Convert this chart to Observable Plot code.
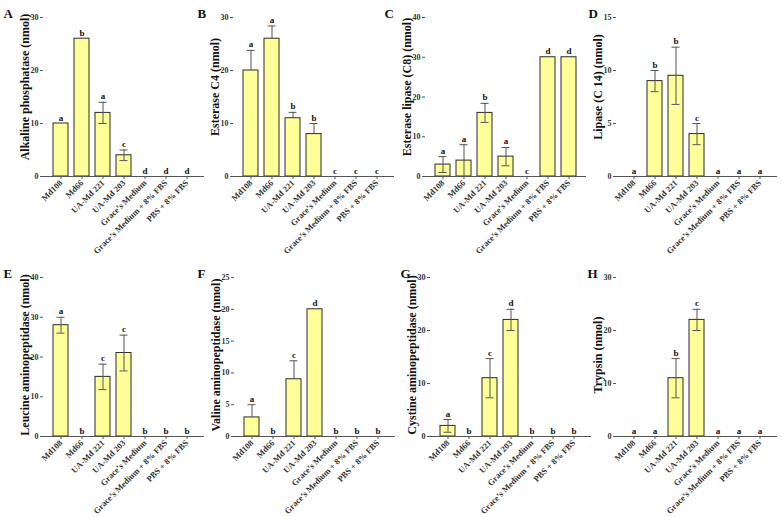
<!DOCTYPE html>
<html>
<head>
<meta charset="utf-8">
<script src="https://cdn.jsdelivr.net/npm/d3@7"></script>
<script src="https://cdn.jsdelivr.net/npm/@observablehq/plot@0.6"></script>
<style>
  body { margin: 0; background: #fff; }
  #fig { position: relative; width: 782px; height: 517px; overflow: hidden; background: #fff; }
  #fig svg { position: absolute; overflow: visible; }
</style>
</head>
<body>
<div id="fig"></div>
<script>
// Strains and control media, shared by every panel
const categories = ["Md108", "Md66", "UA-Md 221", "UA-Md 203", "Grace’s Medium", "Grace’s Medium + 8% FBS", "PBS + 8% FBS"];

// A — alkaline phosphatase
const alkalinePhosphatase = [10, 26, 12, 4, 0, 0, 0];
const alkalinePhosphataseSD = [0, 0, 2, 1, 0, 0, 0];
const alkalinePhosphataseGroups = ["a", "b", "a", "c", "d", "d", "d"];
const alkalinePhosphataseTicks = [0, 10, 20, 30];

// B — esterase C4
const esteraseC4 = [20, 26, 11, 8, 0, 0, 0];
const esteraseC4SD = [3.8, 2.4, 1.1, 2, 0, 0, 0];
const esteraseC4Groups = ["a", "a", "b", "b", "c", "c", "c"];
const esteraseC4Ticks = [0, 10, 20, 30];

// C — esterase lipase (C8)
const esteraseLipaseC8 = [3, 4, 16, 5, 0, 30, 30];
const esteraseLipaseC8SD = [2, 4, 2.4, 2.3, 0, 0, 0];
const esteraseLipaseC8Groups = ["a", "a", "b", "a", "c", "d", "d"];
const esteraseLipaseC8Ticks = [0, 10, 20, 30, 40];

// D — lipase (C 14)
const lipaseC14 = [0, 9, 9.5, 4, 0, 0, 0];
const lipaseC14SD = [0, 1, 2.7, 1, 0, 0, 0];
const lipaseC14Groups = ["a", "b", "b", "c", "a", "a", "a"];
const lipaseC14Ticks = [0, 5, 10, 15];

// E — leucine aminopeptidase
const leucineAminopeptidase = [28, 0, 15, 21, 0, 0, 0];
const leucineAminopeptidaseSD = [2, 0, 3.2, 4.5, 0, 0, 0];
const leucineAminopeptidaseGroups = ["a", "b", "c", "c", "b", "b", "b"];
const leucineAminopeptidaseTicks = [0, 10, 20, 30, 40];

// F — valine aminopeptidase
const valineAminopeptidase = [3, 0, 9, 20, 0, 0, 0];
const valineAminopeptidaseSD = [2, 0, 2.9, 0, 0, 0, 0];
const valineAminopeptidaseGroups = ["a", "b", "c", "d", "b", "b", "b"];
const valineAminopeptidaseTicks = [0, 5, 10, 15, 20, 25];

// G — cystine aminopeptidase
const cystineAminopeptidase = [2, 0, 11, 22, 0, 0, 0];
const cystineAminopeptidaseSD = [1.2, 0, 3.7, 2, 0, 0, 0];
const cystineAminopeptidaseGroups = ["a", "b", "c", "d", "b", "b", "b"];
const cystineAminopeptidaseTicks = [0, 10, 20, 30];

// H — trypsin
const trypsin = [0, 0, 11, 22, 0, 0, 0];
const trypsinSD = [0, 0, 3.7, 2, 0, 0, 0];
const trypsinGroups = ["a", "a", "b", "c", "a", "a", "a"];
const trypsinTicks = [0, 10, 20, 30];

const panels = [
  {tag: "A", title: "Alkaline phosphatase (nmol)", values: alkalinePhosphatase, sd: alkalinePhosphataseSD, groups: alkalinePhosphataseGroups, ticks: alkalinePhosphataseTicks, upperOnly: false},
  {tag: "B", title: "Esterase C4 (nmol)", values: esteraseC4, sd: esteraseC4SD, groups: esteraseC4Groups, ticks: esteraseC4Ticks, upperOnly: true},
  {tag: "C", title: "Esterase lipase (C8) (nmol)", values: esteraseLipaseC8, sd: esteraseLipaseC8SD, groups: esteraseLipaseC8Groups, ticks: esteraseLipaseC8Ticks, upperOnly: false},
  {tag: "D", title: "Lipase (C 14) (nmol)", values: lipaseC14, sd: lipaseC14SD, groups: lipaseC14Groups, ticks: lipaseC14Ticks, upperOnly: false},
  {tag: "E", title: "Leucine aminopeptidase (nmol)", values: leucineAminopeptidase, sd: leucineAminopeptidaseSD, groups: leucineAminopeptidaseGroups, ticks: leucineAminopeptidaseTicks, upperOnly: false},
  {tag: "F", title: "Valine aminopeptidase (nmol)", values: valineAminopeptidase, sd: valineAminopeptidaseSD, groups: valineAminopeptidaseGroups, ticks: valineAminopeptidaseTicks, upperOnly: true},
  {tag: "G", title: "Cystine aminopeptidase (nmol)", values: cystineAminopeptidase, sd: cystineAminopeptidaseSD, groups: cystineAminopeptidaseGroups, ticks: cystineAminopeptidaseTicks, upperOnly: false},
  {tag: "H", title: "Trypsin (nmol)", values: trypsin, sd: trypsinSD, groups: trypsinGroups, ticks: trypsinTicks, upperOnly: false}
];

// Page placement of each panel: y-axis position, row top, panel-letter position, title shift
const layout = [
  {axisX: 43, top: 0, tagX: 3, titleDy: -10},
  {axisX: 233, top: 0, tagX: 197, titleDy: -10},
  {axisX: 425, top: 0, tagX: 384, titleDy: -10},
  {axisX: 616, top: 0, tagX: 588, titleDy: -10},
  {axisX: 43, top: 260, tagX: 3, titleDy: -2},
  {axisX: 234, top: 260, tagX: 197, titleDy: -2},
  {axisX: 430, top: 260, tagX: 400, titleDy: -2},
  {axisX: 616, top: 260, tagX: 587, titleDy: -2}
];

const ML = 48;          // room for tick labels and the rotated title
const FRAME_W = 161;    // length of the x-axis line
const FONT = "'Liberation Serif', 'Times New Roman', serif";
const AXIS = "#555";

const fig = document.getElementById("fig");

panels.forEach((p, k) => {
  const pos = layout[k];
  const rows = categories.map((c, i) => ({cat: c, v: p.values[i], e: p.sd[i], g: p.groups[i]}));
  const bars = rows.filter(d => d.v > 0);
  const errs = rows.filter(d => d.e > 0);
  const lo = d => p.upperOnly ? d.v : d.v - d.e;
  const hi = d => d.v + d.e;

  const chart = Plot.plot({
    width: ML + FRAME_W,
    height: 255,
    marginLeft: ML,
    marginRight: 0,
    marginTop: 17,
    marginBottom: 79,
    style: {fontFamily: FONT, fontWeight: "bold", fontSize: "8px", background: "transparent", color: "#333"},
    x: {type: "band", domain: categories, paddingInner: 0.3, paddingOuter: 0.15, insetLeft: 4, insetRight: 5},
    y: {domain: [0, d3.max(p.ticks)]},
    marks: [
      Plot.barY(bars, {x: "cat", y: "v", fill: "#ffff99", stroke: "#2b2b2b", strokeWidth: 1}),
      Plot.ruleX(errs, {x: "cat", y1: lo, y2: hi, stroke: "#555", strokeWidth: 1}),
      Plot.tickY(errs, {x: "cat", y: hi, stroke: "#555", strokeWidth: 1, insetLeft: 3.5, insetRight: 3.5}),
      p.upperOnly ? null : Plot.tickY(errs, {x: "cat", y: lo, stroke: "#555", strokeWidth: 1, insetLeft: 3.5, insetRight: 3.5}),
      Plot.text(rows, {x: "cat", y: hi, text: "g", dy: -3, lineAnchor: "bottom", fontSize: 9, fontWeight: "bold", fill: "#111"}),
      Plot.axisY({ticks: p.ticks, tickSize: 3, tickPadding: 2, label: null, line: true, stroke: AXIS, fill: "#333", fontSize: 8}),
      Plot.axisX({tickRotate: -45, tickSize: 3, tickPadding: 2, label: null, stroke: AXIS, fill: "#333", fontSize: 8.5}),
      Plot.ruleY([0], {stroke: AXIS}),
      Plot.text([p.title], {text: d => d, frameAnchor: "left", textAnchor: "middle", dx: -18, dy: pos.titleDy, rotate: -90, fontSize: 12, fontWeight: "bold", fill: "#111"}),
      Plot.text([p.tag], {text: d => d, frameAnchor: "top-left", dx: pos.tagX - pos.axisX, textAnchor: "start", lineAnchor: "bottom", fontSize: 13, fontWeight: "bold", fill: "#111"})
    ]
  });
  chart.style.left = (pos.axisX - ML) + "px";
  chart.style.top = pos.top + "px";
  fig.appendChild(chart);
});
</script>
</body>
</html>
